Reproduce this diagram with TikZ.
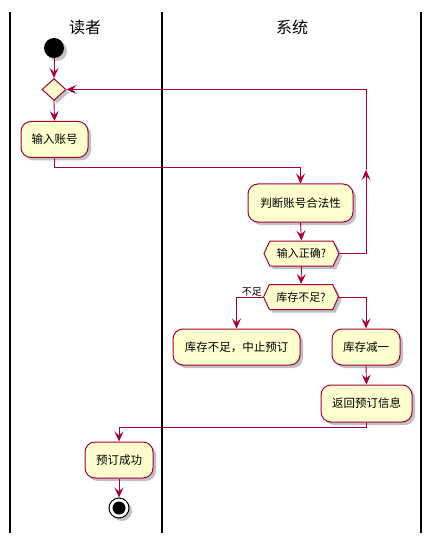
\documentclass[tikz,border=0pt]{standalone}
\usepackage{fontspec}
\setmainfont{Noto Sans CJK SC}
\usetikzlibrary{arrows.meta,shapes.geometric,shapes.symbols,shadows}
\definecolor{umlred}{HTML}{A80036}
\definecolor{umlfill}{HTML}{FEFECE}

\begin{document}
\begin{tikzpicture}[x=1pt,y=-1pt,
    shade3/.style={drop shadow={opacity=0.35,fill=black!70,shadow xshift=3pt,shadow yshift=-3pt}},
    act/.style={draw=umlred,fill=umlfill,line width=1pt,rounded corners=10pt,minimum height=36pt,inner xsep=4pt,font=\fontsize{11.5}{14}\selectfont,shade3},
    cond/.style={signal,signal to=west and east,signal pointer angle=130,draw=umlred,fill=umlfill,line width=1pt,minimum width=75pt,minimum height=25pt,inner xsep=2pt,inner ysep=0pt,font=\fontsize{11}{13}\selectfont,shade3},
    flow/.style={draw=umlred,line width=0.9pt,-{Stealth[length=10pt,width=9pt,inset=4pt]}},
    lane/.style={draw=black,line width=1.6pt},
    lanetitle/.style={font=\fontsize{16}{18}\selectfont}]
    \useasboundingbox (0,0) rectangle (432,545);
    % swimlanes
    \draw[lane] (10,12) -- (10,533);
    \draw[lane] (162,12) -- (162,533);
    \draw[lane] (421,12) -- (421,533);
    \node[lanetitle] at (85,27) (reader) {读者};
    \node[lanetitle] at (292,27) (system) {系统};
    % nodes
    \node[circle,fill=black,minimum size=20pt,inner sep=0pt,shade3] at (54,48) (start) {};
    \node[diamond,draw=umlred,fill=umlfill,line width=1pt,minimum width=24pt,minimum height=22pt,inner sep=0pt,shade3] at (54,89.5) (merge) {};
    \node[act,minimum width=67pt] at (54.5,139.5) (input) {输入账号};
    \node[act,minimum width=105pt,minimum height=38pt] at (300.5,203) (judge) {判断账号合法性};
    \node[cond] at (301.5,253.5) (check) {输入正确?};
    \node[cond] at (301,297) (stock) {库存不足?};
    \node[act,minimum width=127pt] at (236.5,347) (abort) {库存不足，中止预订};
    \node[act,minimum width=68pt] at (366,347) (reduce) {库存减一};
    \node[act,minimum width=91pt,minimum height=37pt] at (366.5,403.5) (ret) {返回预订信息};
    \node[act,minimum width=68pt] at (119,460) (ok) {预订成功};
    \node[circle,draw=black,fill=white,line width=1pt,minimum size=20pt,inner sep=0pt,shade3] at (119,508) (stop) {};
    \node[circle,fill=black,minimum size=13pt,inner sep=0pt] at (stop.center) (stopdot) {};
    \node[anchor=south east,inner sep=1pt,font=\fontsize{10}{12}\selectfont] at (stock.west) (lack) {不足};
    % turning points
    \coordinate (turn1) at (54.5,167);
    \coordinate (loopup) at (366,170);
    \coordinate (looptop) at (366,89.5);
    \coordinate (turn2) at (366.5,427);
    % connectors
    \draw[flow] (start.south) -- (merge.north);
    \draw[flow] (merge.south) -- (input.north);
    \draw[flow] (input.south) -- (turn1) -| (judge.north);
    \draw[flow] (judge.south) -- (check.north);
    \draw[flow] (check.east) -| (loopup);
    \draw[flow] (loopup) -- (looptop) -- (merge.east);
    \draw[flow] (check.south) -- (stock.north);
    \draw[flow] (stock.west) -| (abort.north);
    \draw[flow] (stock.east) -| (reduce.north);
    \draw[flow] (reduce.south) -- (ret.north);
    \draw[flow] (ret.south) -- (turn2) -| (ok.north);
    \draw[flow] (ok.south) -- (stop.north);
\end{tikzpicture}
\end{document}
